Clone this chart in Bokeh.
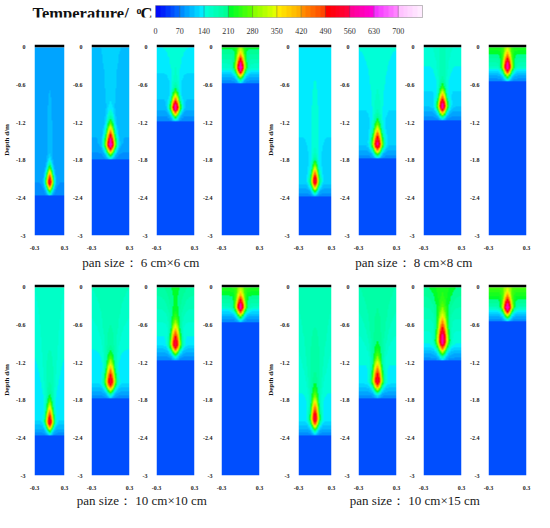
import numpy as np
from bokeh.plotting import figure
from bokeh.models import Range1d, LinearColorMapper, FixedTicker, BoxAnnotation
from bokeh.layouts import column, row
from bokeh.embed import file_html
from bokeh.resources import INLINE
from bokeh.core.properties import value

# ---------------- data ----------------
colorbar_ticks = [0, 70, 140, 210, 280, 350, 420, 490, 560, 630, 700]
colorbar_max = 770
depth_ticks = [0, -0.6, -1.2, -1.8, -2.4, -3]
width_ticks = [-0.3, 0.3]
captions = ["pan size：  6 cm×6 cm", "pan size：  8 cm×8 cm",
            "pan size：  10 cm×10 cm", "pan size：  10 cm×15 cm"]

ambient_temp = 55
# per panel (4 groups x 4 panels)
hot_depth   = [-2.15, -1.55, -0.96, -0.32,  -2.14, -1.55, -0.94, -0.31,
               -2.15, -1.51, -0.91, -0.31,  -2.10, -1.49, -0.85, -0.32]
front_depth = [-2.37, -1.79, -1.18, -0.58,  -2.38, -1.78, -1.17, -0.55,
               -2.37, -1.78, -1.16, -0.56,  -2.36, -1.77, -1.17, -0.55]
peak_temp   = [540, 610, 590, 610,  540, 570, 590, 600,
               540, 540, 550, 590,  540, 540, 590, 610]
bg_top      = [95, 110, 140, 215,  135, 140, 150, 235,
               150, 165, 190, 240,  165, 175, 205, 260]
bg_low      = [85, 95, 100, 110,  120, 115, 110, 110,
               125, 120, 115, 110,  130, 125, 120, 115]
plume_amp   = [30, 50, 90, 60,  50, 70, 100, 60,
               90, 100, 110, 60,  100, 110, 120, 60]
plume_len   = [0.9, 0.8, 0.5, 0.3,  0.9, 0.8, 0.6, 0.3,
               1.0, 0.8, 0.6, 0.3,  1.1, 0.9, 0.6, 0.3]
plume_spread = [0.06, 0.07, 0.08, 0.10,  0.08, 0.09, 0.10, 0.10,
                0.14, 0.14, 0.14, 0.12,  0.16, 0.16, 0.16, 0.12]
core_half   = [0.075, 0.08, 0.075, 0.075,  0.075, 0.08, 0.075, 0.075,
               0.08, 0.08, 0.08, 0.075,  0.08, 0.08, 0.085, 0.075]
core_up     = [0.22, 0.30, 0.20, 0.24,  0.24, 0.28, 0.22, 0.24,
               0.26, 0.30, 0.30, 0.22,  0.30, 0.30, 0.38, 0.22]
core_down   = [0.15, 0.16, 0.14, 0.16,  0.15, 0.15, 0.14, 0.15,
               0.14, 0.16, 0.15, 0.15,  0.16, 0.16, 0.20, 0.14]

# ---------------- colour map (Tecplot-like, 5 sub-bands per 70 °C) ----------------
seg_colors = [((0, 10, 250), (0, 100, 255)), ((0, 140, 255), (0, 235, 255)),
              ((0, 255, 215), (0, 255, 150)), ((0, 255, 40), (90, 255, 0)),
              ((140, 255, 0), (225, 255, 0)), ((255, 235, 0), (255, 175, 0)),
              ((255, 140, 0), (255, 70, 0)), ((255, 0, 0), (255, 0, 60)),
              ((255, 0, 150), (255, 0, 215)), ((245, 50, 255), (255, 130, 255)),
              ((255, 195, 255), (255, 235, 255))]
palette = []
for a, b in seg_colors:
    for k in range(5):
        t = k / 4
        c = [int(round(a[j] + (b[j] - a[j]) * t)) for j in range(3)]
        palette.append("#%02x%02x%02x" % tuple(c))
mapper = LinearColorMapper(palette=palette, low=0, high=colorbar_max)

NX, NZ = 60, 300
xs = np.linspace(-0.3, 0.3, NX)
zs = np.linspace(-3, 0, NZ)
X, Z = np.meshgrid(xs, zs)


def temp_field(i):
    zc, fr = hot_depth[i], front_depth[i]
    frac = np.clip((Z - fr) / (0 - fr), 0, 1)
    bg = bg_low[i] + (bg_top[i] - bg_low[i]) * frac
    ramp = np.clip((Z - fr) / 0.25, 0, 1)
    bg = (ambient_temp + 20) + (bg - ambient_temp - 20) * ramp
    dz = Z - zc
    up = np.maximum(dz, 0)
    dn = np.minimum(dz, 0)
    w = 0.035 + plume_spread[i] * up
    plume = plume_amp[i] * np.exp(-up / plume_len[i]) * np.exp(-(X / w) ** 2) * np.exp(-(dn / 0.1) ** 2)
    base = bg + plume
    az = np.where(dz > 0, core_up[i], core_down[i])
    r = ((np.abs(X) / core_half[i]) ** 1.4 + (np.abs(dz) / az) ** 1.4) ** (1 / 1.4)
    g = np.exp(-r ** 2)
    T = base + (peak_temp[i] - base) * g
    T = np.where(Z < fr, ambient_temp, T)
    return T


SERIF = value("Liberation Serif")
FRAME_W = 38


def panel(i, left, label):
    p = figure(width=left + FRAME_W + 5, height=4 + 194 + 14,
               x_range=Range1d(-0.3, 0.3), y_range=Range1d(-3, 0.045),
               min_border_left=left, min_border_right=5, min_border_top=4, min_border_bottom=14,
               toolbar_location=None, output_backend="svg", tools="")
    p.image(image=[temp_field(i)], x=-0.3, y=-3, dw=0.6, dh=3, color_mapper=mapper)
    p.add_layout(BoxAnnotation(bottom=0, fill_color="black", fill_alpha=1, line_color=None))
    p.grid.visible = False
    p.outline_line_color = None
    p.yaxis.ticker = FixedTicker(ticks=depth_ticks)
    p.yaxis.major_label_overrides = {t: ("%g" % t) for t in depth_ticks}
    p.xaxis.ticker = FixedTicker(ticks=width_ticks)
    p.xaxis.major_label_overrides = {t: ("%g" % t) for t in width_ticks}
    for ax in (p.xaxis, p.yaxis):
        ax.axis_line_color = None
        ax.major_tick_line_color = None
        ax.minor_tick_line_color = None
        ax.major_label_text_font = "Liberation Serif"
        ax.major_label_text_font_style = "bold"
        ax.major_label_text_font_size = "6px"
        ax.major_label_text_color = "#222222"
    p.yaxis.major_label_standoff = 3
    p.xaxis.major_label_standoff = 4
    if label:
        p.yaxis.axis_label = "Depth d/m"
        p.yaxis.axis_label_text_font = "Liberation Serif"
        p.yaxis.axis_label_text_font_style = "bold"
        p.yaxis.axis_label_text_font_size = "7px"
        p.yaxis.axis_label_standoff = 2
        p.yaxis.axis_label_text_color = "#111111"
    return p


def panel_row(offset):
    figs = []
    for g in range(2):
        for k in range(4):
            i = offset + g * 4 + k
            if k == 0:
                left = 26 if g == 0 else 29
            else:
                left = 22
            figs.append(panel(i, left, k == 0))
    return row(*figs, spacing=0)


# ---------------- header: title + colour bar ----------------
title_fig = figure(width=152, height=40, x_range=Range1d(0, 152), y_range=Range1d(40, 0),
                   min_border=0, toolbar_location=None, output_backend="svg", tools="",
                   x_axis_location=None, y_axis_location=None)
title_fig.grid.visible = False
title_fig.outline_line_color = None
title_fig.text(x=[32], y=[25], text=["Temperature/"], text_font=SERIF, text_font_style="bold",
               text_font_size="16.5px", text_baseline="alphabetic", text_align="left", text_color="#111111")
title_fig.text(x=[136], y=[17], text=["o"], text_font=SERIF, text_font_style="bold",
               text_font_size="10px", text_baseline="alphabetic", text_align="left", text_color="#111111")
title_fig.text(x=[140], y=[25], text=["C"], text_font=SERIF, text_font_style="bold",
               text_font_size="16.5px", text_baseline="alphabetic", text_align="left", text_color="#111111")

cbar = figure(width=379, height=40, x_range=Range1d(0, colorbar_max), y_range=Range1d(0, 1),
              min_border_left=3, min_border_right=379 - 3 - 267, min_border_top=5, min_border_bottom=23,
              toolbar_location=None, output_backend="svg", tools="", y_axis_location=None)
cbar.image(image=[(np.arange(colorbar_max) + 0.5).reshape(1, -1)], x=0, y=0,
           dw=colorbar_max, dh=1, color_mapper=mapper)
cbar.segment(x0=colorbar_ticks[1:], x1=colorbar_ticks[1:], y0=0, y1=1,
             line_color="#444444", line_alpha=0.45, line_width=0.8)
cbar.grid.visible = False
cbar.outline_line_color = "#aaaaaa"
cbar.xaxis.ticker = FixedTicker(ticks=colorbar_ticks)
cbar.xaxis.axis_line_color = None
cbar.xaxis.major_tick_line_color = None
cbar.xaxis.minor_tick_line_color = None
cbar.xaxis.major_label_text_font = "Liberation Serif"
cbar.xaxis.major_label_text_font_size = "8px"
cbar.xaxis.major_label_text_color = "#333333"
cbar.xaxis.major_label_standoff = 4


def caption_fig(h, ybase, texts, xs_):
    c = figure(width=531, height=h, x_range=Range1d(0, 531), y_range=Range1d(h, 0),
               min_border=0, toolbar_location=None, output_backend="svg", tools="",
               x_axis_location=None, y_axis_location=None)
    c.grid.visible = False
    c.outline_line_color = None
    c.text(x=xs_, y=[ybase] * len(texts), text=texts, text_font=SERIF, text_font_size="13px",
           text_baseline="middle", text_align="center", text_color="#1a1a1a")
    return c


cap1 = caption_fig(28, 10, captions[0:2], [142, 415])
cap2 = caption_fig(20, 8, captions[2:4], [143, 416])

layout = column(row(title_fig, cbar, spacing=0), panel_row(0), cap1, panel_row(8), cap2, spacing=0)

open("out.html", "w").write(file_html(layout, INLINE))
